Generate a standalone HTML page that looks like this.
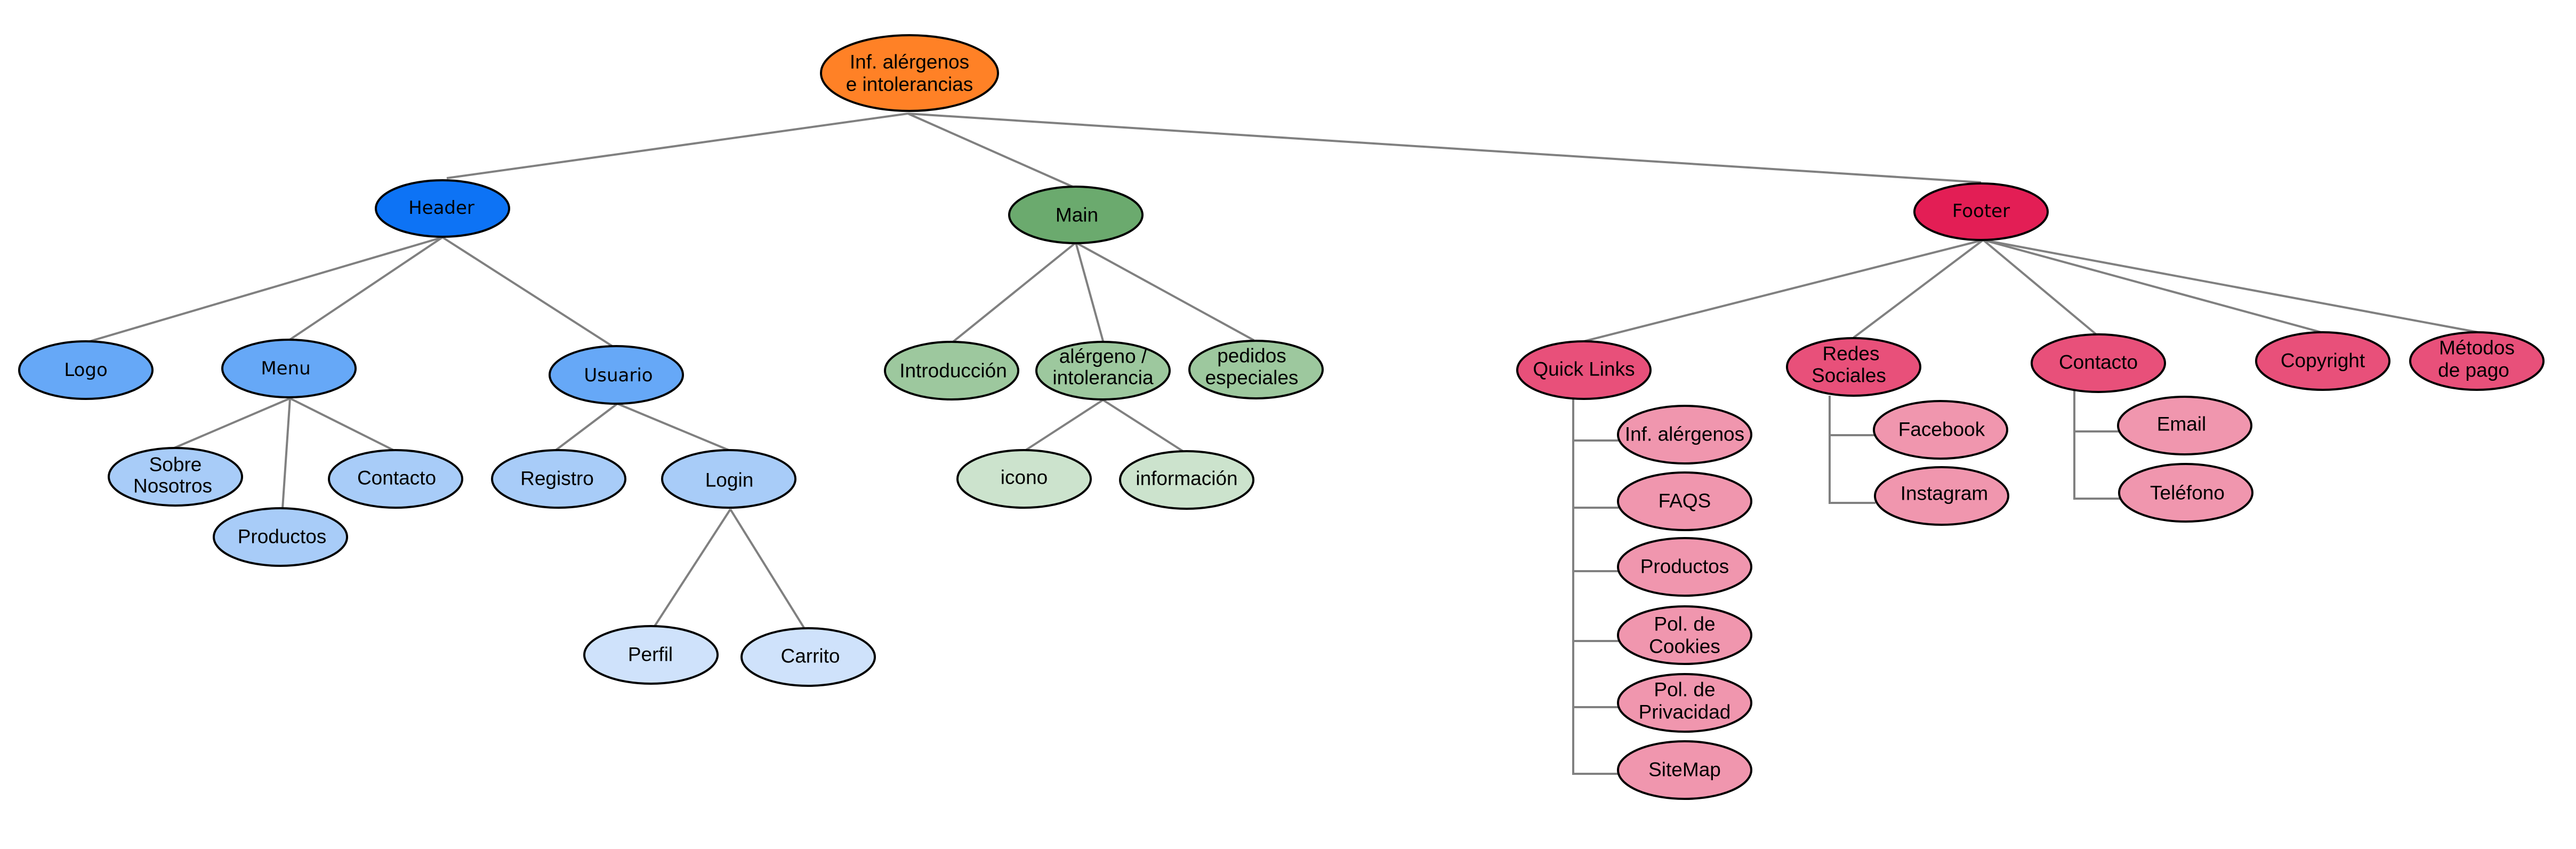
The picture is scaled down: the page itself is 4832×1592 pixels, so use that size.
<!DOCTYPE html>
<html><head><meta charset="utf-8"><style>
html,body{margin:0;padding:0;background:#fff;}
svg{display:block;}
text{font-family:"Liberation Sans",Arial,sans-serif;font-size:37px;fill:#000;text-anchor:middle;dominant-baseline:central;}
</style></head><body>
<svg width="4832" height="1592" viewBox="0 0 4832 1592" xmlns="http://www.w3.org/2000/svg">
<g stroke="#808080" stroke-width="4" fill="none">
<line x1="1703" y1="213" x2="838" y2="334"/>
<line x1="1703" y1="213" x2="2012" y2="350"/>
<line x1="1703" y1="213" x2="3716" y2="342"/>
<line x1="830" y1="445" x2="165" y2="641"/>
<line x1="830" y1="445" x2="542" y2="638"/>
<line x1="830" y1="445" x2="1150" y2="650"/>
<line x1="544" y1="747" x2="322" y2="842"/>
<line x1="544" y1="747" x2="530" y2="953"/>
<line x1="544" y1="747" x2="738" y2="844"/>
<line x1="1158" y1="757" x2="1040" y2="846"/>
<line x1="1158" y1="757" x2="1367" y2="844"/>
<line x1="1370" y1="955" x2="1228" y2="1174"/>
<line x1="1370" y1="955" x2="1508" y2="1177"/>
<line x1="2018" y1="455" x2="1785" y2="643"/>
<line x1="2018" y1="455" x2="2070" y2="643"/>
<line x1="2018" y1="455" x2="2352" y2="638"/>
<line x1="2069" y1="750" x2="1921" y2="846"/>
<line x1="2069" y1="750" x2="2222" y2="848"/>
<line x1="3720" y1="450" x2="2971" y2="640"/>
<line x1="3720" y1="450" x2="3477" y2="633"/>
<line x1="3720" y1="450" x2="3932" y2="627"/>
<line x1="3720" y1="450" x2="4354" y2="623"/>
<line x1="3720" y1="450" x2="4648" y2="623"/>
<polyline points="2951,748 2951,1451 3036,1451"/>
<line x1="2951" y1="826" x2="3036" y2="826"/>
<line x1="2951" y1="952" x2="3036" y2="952"/>
<line x1="2951" y1="1071" x2="3036" y2="1071"/>
<line x1="2951" y1="1202" x2="3036" y2="1202"/>
<line x1="2951" y1="1326" x2="3036" y2="1326"/>
<polyline points="3432,742 3432,943 3518,943"/>
<line x1="3432" y1="816" x2="3518" y2="816"/>
<polyline points="3891,733 3891,935 3977,935"/>
<line x1="3891" y1="809" x2="3977" y2="809"/>
</g>
<g stroke="#000" stroke-width="4">
<ellipse cx="1706" cy="137" rx="166" ry="71" fill="#FF8126"/>
<ellipse cx="830" cy="391" rx="125" ry="53" fill="#0D73F5"/>
<ellipse cx="2018" cy="403" rx="125" ry="53" fill="#6BAA6E"/>
<ellipse cx="3716" cy="397" rx="125" ry="53" fill="#E31E55"/>
<ellipse cx="161" cy="694" rx="125" ry="54" fill="#66A8F7"/>
<ellipse cx="542" cy="691" rx="125" ry="54" fill="#66A8F7"/>
<ellipse cx="1156" cy="703" rx="125" ry="54" fill="#66A8F7"/>
<ellipse cx="329" cy="894" rx="125" ry="54" fill="#A8CCF8"/>
<ellipse cx="526" cy="1007" rx="125" ry="54" fill="#A8CCF8"/>
<ellipse cx="742" cy="898" rx="125" ry="54" fill="#A8CCF8"/>
<ellipse cx="1048" cy="898" rx="125" ry="54" fill="#A8CCF8"/>
<ellipse cx="1367" cy="898" rx="125" ry="54" fill="#A8CCF8"/>
<ellipse cx="1221" cy="1228" rx="125" ry="54" fill="#CFE2FB"/>
<ellipse cx="1516" cy="1232" rx="125" ry="54" fill="#CFE2FB"/>
<ellipse cx="1785" cy="695" rx="125" ry="54" fill="#9DC89E"/>
<ellipse cx="2069" cy="695" rx="125" ry="54" fill="#9DC89E"/>
<ellipse cx="2356" cy="693" rx="125" ry="54" fill="#9DC89E"/>
<ellipse cx="1921" cy="898" rx="125" ry="54" fill="#CCE3CD"/>
<ellipse cx="2226" cy="900" rx="125" ry="54" fill="#CCE3CD"/>
<ellipse cx="2971" cy="694" rx="125" ry="54" fill="#E8507A"/>
<ellipse cx="3477" cy="688" rx="125" ry="54" fill="#E8507A"/>
<ellipse cx="3936" cy="681" rx="125" ry="54" fill="#E8507A"/>
<ellipse cx="4357" cy="677" rx="125" ry="54" fill="#E8507A"/>
<ellipse cx="4646" cy="677" rx="125" ry="54" fill="#E8507A"/>
<ellipse cx="3160" cy="815" rx="125" ry="54" fill="#F096AE"/>
<ellipse cx="3160" cy="940" rx="125" ry="54" fill="#F096AE"/>
<ellipse cx="3160" cy="1063" rx="125" ry="54" fill="#F096AE"/>
<ellipse cx="3160" cy="1191" rx="125" ry="54" fill="#F096AE"/>
<ellipse cx="3160" cy="1318" rx="125" ry="54" fill="#F096AE"/>
<ellipse cx="3160" cy="1444" rx="125" ry="54" fill="#F096AE"/>
<ellipse cx="3640" cy="806" rx="125" ry="54" fill="#F096AE"/>
<ellipse cx="3642" cy="930" rx="125" ry="54" fill="#F096AE"/>
<ellipse cx="4098" cy="798" rx="125" ry="54" fill="#F096AE"/>
<ellipse cx="4100" cy="924" rx="125" ry="54" fill="#F096AE"/>
</g>
<text x="1706" y="116">Inf. alérgenos</text>
<text x="1706" y="158">e intolerancias</text>
<text x="828" y="390" style="font-family:'DejaVu Sans',sans-serif;font-size:34px">Header</text>
<text x="2020" y="403">Main</text>
<text x="3716" y="396" style="font-family:'DejaVu Sans',sans-serif;font-size:34px">Footer</text>
<text x="161" y="694" style="font-family:'DejaVu Sans',sans-serif;font-size:34px">Logo</text>
<text x="536" y="691" style="font-family:'DejaVu Sans',sans-serif;font-size:34px">Menu</text>
<text x="1160" y="704" style="font-family:'DejaVu Sans',sans-serif;font-size:34px">Usuario</text>
<text x="329" y="871">Sobre</text>
<text x="324" y="911">Nosotros</text>
<text x="529" y="1006">Productos</text>
<text x="744" y="896">Contacto</text>
<text x="1045" y="897">Registro</text>
<text x="1368" y="900">Login</text>
<text x="1220" y="1227">Perfil</text>
<text x="1520" y="1230">Carrito</text>
<text x="1788" y="695">Introducción</text>
<text x="2069" y="668">alérgeno /</text>
<text x="2069" y="708">intolerancia</text>
<text x="2348" y="667">pedidos</text>
<text x="2348" y="708">especiales</text>
<text x="1921" y="895">icono</text>
<text x="2226" y="897">información</text>
<text x="2971" y="692">Quick Links</text>
<text x="3160" y="814">Inf. alérgenos</text>
<text x="3160" y="939">FAQS</text>
<text x="3160" y="1062">Productos</text>
<text x="3160" y="1170">Pol. de</text>
<text x="3160" y="1212">Cookies</text>
<text x="3160" y="1293">Pol. de</text>
<text x="3160" y="1335">Privacidad</text>
<text x="3160" y="1443">SiteMap</text>
<text x="3472" y="663">Redes</text>
<text x="3468" y="704">Sociales</text>
<text x="3936" y="679">Contacto</text>
<text x="4357" y="676">Copyright</text>
<text x="4646" y="652">Métodos</text>
<text x="4640" y="694">de pago</text>
<text x="3642" y="805">Facebook</text>
<text x="3647" y="925">Instagram</text>
<text x="4092" y="795">Email</text>
<text x="4103" y="924">Teléfono</text>
</svg>
</body></html>
